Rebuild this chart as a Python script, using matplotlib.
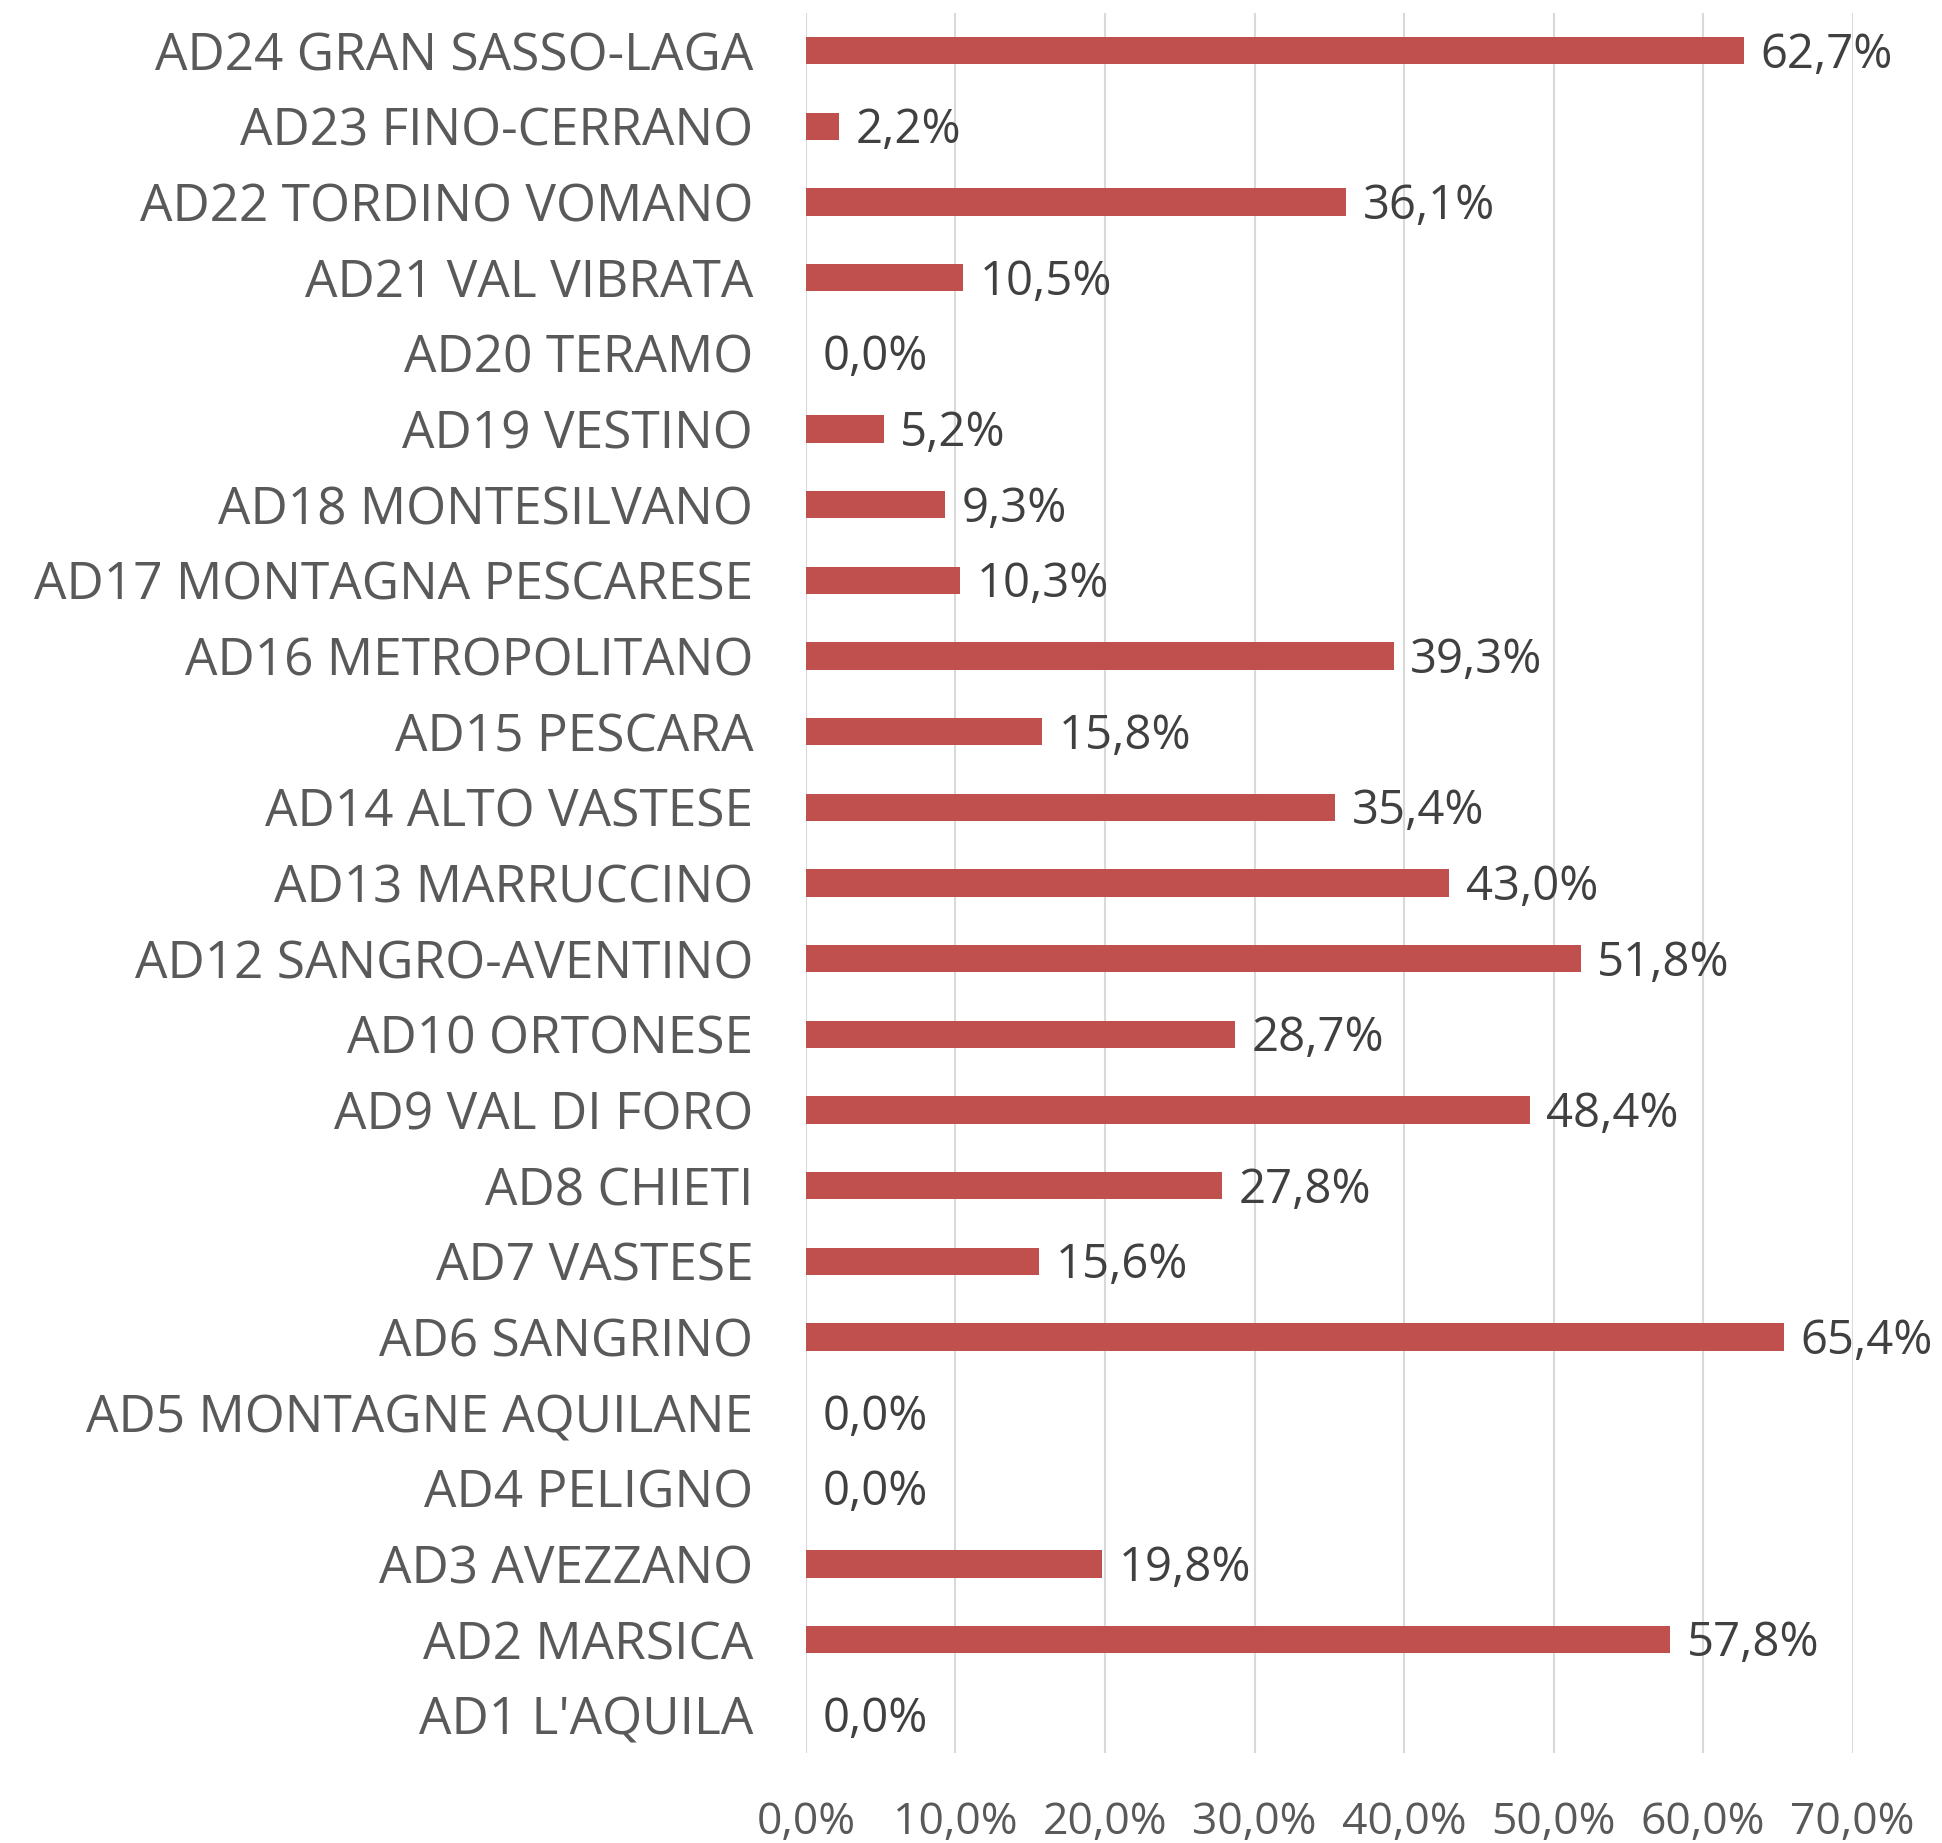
import numpy as np
import matplotlib.pyplot as plt

# areas (top to bottom as in the chart) and their percentages
areas = ["AD24 GRAN SASSO-LAGA", "AD23 FINO-CERRANO", "AD22 TORDINO VOMANO",
         "AD21 VAL VIBRATA", "AD20 TERAMO", "AD19 VESTINO", "AD18 MONTESILVANO",
         "AD17 MONTAGNA PESCARESE", "AD16 METROPOLITANO", "AD15 PESCARA",
         "AD14 ALTO VASTESE", "AD13 MARRUCCINO", "AD12 SANGRO-AVENTINO",
         "AD10 ORTONESE", "AD9 VAL DI FORO", "AD8 CHIETI", "AD7 VASTESE",
         "AD6 SANGRINO", "AD5 MONTAGNE AQUILANE", "AD4 PELIGNO", "AD3 AVEZZANO",
         "AD2 MARSICA", "AD1 L'AQUILA"]
values = [62.7, 2.2, 36.1, 10.5, 0.0, 5.2, 9.3, 10.3, 39.3, 15.8, 35.4, 43.0,
          51.8, 28.7, 48.4, 27.8, 15.6, 65.4, 0.0, 0.0, 19.8, 57.8, 0.0]
xticks = [0, 10, 20, 30, 40, 50, 60, 70]

plt.rcParams['font.family'] = ['Open Sans', 'DejaVu Sans']

fig = plt.figure(figsize=(19.42, 18.43), dpi=100)
ax = fig.add_axes([0.415, 0.0488, 0.539, 0.9442])

y = np.arange(len(areas))
ax.barh(y, values, height=0.36, color="#C0504D", zorder=3)

# data labels, comma as decimal separator
for yi, v in zip(y, values):
    ax.annotate(f"{v:.1f}%".replace(".", ","), (v, yi), xytext=(12, -3),
                textcoords="offset points", va="center", ha="left",
                fontsize=34, color="#404040")

ax.set_xlim(0, 70)
ax.set_ylim(len(areas) - 0.5, -0.5)
ax.set_yticks(y)
ax.set_yticklabels(areas, fontsize=37, color="#595959")
ax.set_xticks(xticks)
ax.set_xticklabels([f"{t},0%" for t in xticks], fontsize=32, color="#595959")
ax.tick_params(axis="both", length=0)
ax.tick_params(axis="y", pad=38)
ax.tick_params(axis="x", pad=34)
ax.grid(axis="x", color="#D9D9D9", linewidth=1.5, zorder=0)
for s in ax.spines.values():
    s.set_visible(False)

fig.savefig("out.png", dpi=100)
